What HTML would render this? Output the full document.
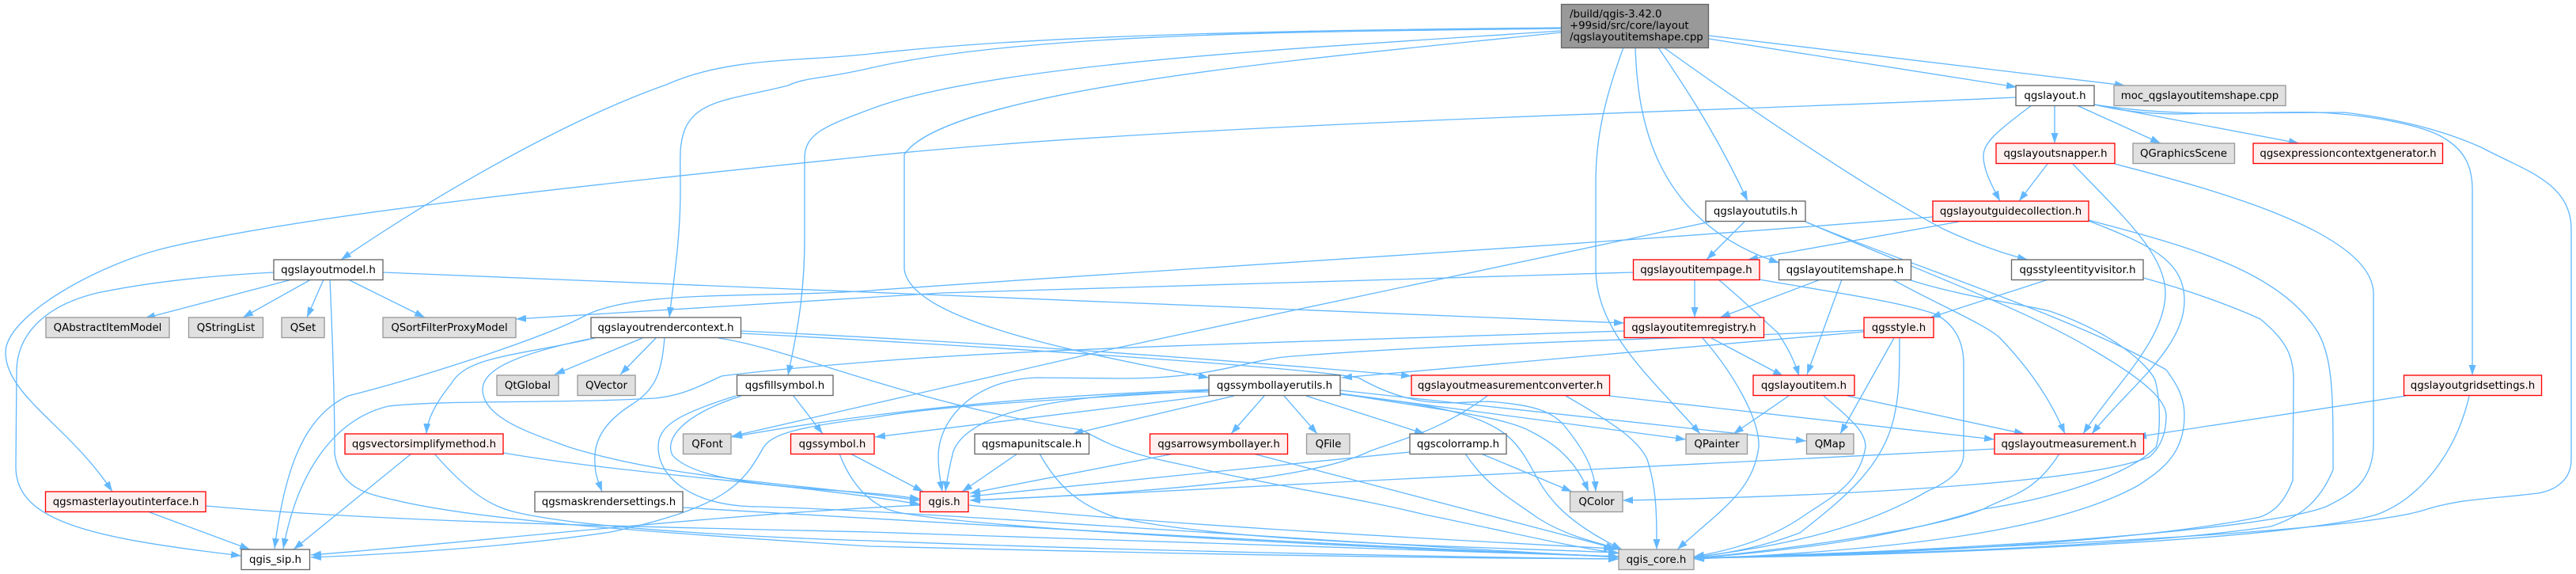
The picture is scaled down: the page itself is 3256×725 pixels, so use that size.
<!DOCTYPE html>
<html><head><meta charset="utf-8"><style>
html,body{margin:0;padding:0;background:#fff}
svg{display:block}
.e path{fill:none;stroke:#63b8ff;stroke-width:1.33;marker-end:url(#a)}
.n rect{stroke-width:1.33}
.w rect{fill:#fff;stroke:#666}
.r rect{fill:#fff0f0;stroke:#f00}
.g rect{fill:#e0e0e0;stroke:#999}
text{font-family:"DejaVu Sans",sans-serif;font-size:13.33px;fill:#000;text-anchor:middle}
</style></head><body>
<svg width="3256" height="725" viewBox="0 0 3256 725" xmlns="http://www.w3.org/2000/svg">
<defs><marker id="a" markerUnits="userSpaceOnUse" markerWidth="14" markerHeight="10" refX="13" refY="5" orient="auto"><polygon points="0,0.5 13,5 0,9.5" fill="#63b8ff"/></marker></defs>
<g class="e">
<!-- root -->
<path d="M1973,35C1680,38 1330,42 1100,68C1010,78 920,72 842,107C720,150 560,240 431,328"/>
<path d="M1973,36C1680,40 1300,40 1100,86C1040,100 1020,97 996,108C930,125 880,125 865,165C858,185 860,200 860,240C860,300 852,350 846,401"/>
<path d="M1973,39C1660,60 1250,80 1100,138C1040,160 1017,170 1017,200L1017,300C1017,380 1005,430 996,474"/>
<path d="M1973,41C1700,70 1200,110 1143,195L1143,340C1150,400 1330,440 1528,477"/>
<path d="M2052,60C2030,120 2017,170 2017,230L2017,340C2017,420 2090,480 2149,548"/>
<path d="M2067,60C2070,150 2090,280 2249,332"/>
<path d="M2096,60C2130,110 2170,170 2209,254"/>
<path d="M2103,60C2200,130 2370,245 2458,290C2490,305 2530,320 2563,328"/>
<path d="M2160,49L2549,110"/>
<path d="M2160,45L2686,108"/>
<!-- layoutmodel -->
<path d="M369,353L183,402"/>
<path d="M393,353L307,401"/>
<path d="M409,353L388,401"/>
<path d="M440,353L537,401"/>
<path d="M417,353C420,420 423,500 423,573C430,620 470,625 505,633C600,655 780,670 1100,690C1500,700 1800,705 2046,706"/>
<path d="M346,344C250,349 180,358 123,370C60,385 21,420 21,470L20,590C20,660 120,680 305,702"/>
<path d="M484,344L2053,408"/>
<!-- qgslayout -->
<path d="M2548,123C2200,140 1500,155 1100,197C800,228 400,268 210,313C120,335 7,400 7,445C7,500 90,540 142,621"/>
<path d="M2597,133L2597,181"/>
<path d="M2568,133C2525,165 2507,180 2507,197C2507,215 2518,235 2528,254"/>
<path d="M2625,133L2731,181"/>
<path d="M2647,132L2906,181"/>
<path d="M2647,132C2760,150 2860,140 2928,142C3000,145 3068,160 3090,175C3115,190 3125,210 3125,240L3125,474"/>
<path d="M2647,132C2700,145 2750,145 2787,143L2963,142C3030,150 3090,165 3138,187C3190,215 3250,230 3250,290L3250,580C3250,610 3225,620 3208,623C3150,630 3110,630 3068,643C2990,670 2600,690 2141,705"/>
<!-- snapper -->
<path d="M2588,207L2552,254"/>
<path d="M2620,207C2680,270 2737,320 2737,370C2737,430 2670,490 2633,548"/>
<path d="M2673,207C2780,235 2998,290 3000,370L3000,560C3000,610 2970,625 2940,640C2860,670 2500,695 2141,705"/>
<!-- guide -->
<path d="M2476,280L2209,328"/>
<path d="M2443,274C2000,310 1400,345 1100,367C960,377 800,365 737,400C680,430 520,480 440,500C385,525 360,590 347,693"/>
<path d="M2640,279C2720,310 2761,330 2761,380C2761,440 2690,490 2644,548"/>
<path d="M2640,278C2760,310 2880,340 2930,420C2949,455 2949,500 2949,593C2930,640 2900,655 2870,665C2700,690 2400,700 2141,705"/>
<!-- utils -->
<path d="M2205,280L2157,328"/>
<path d="M2162,280L1409,440L925,551"/>
<path d="M2282,280C2420,340 2560,390 2647,443C2710,480 2738,505 2738,525C2738,555 2725,570 2717,577C2650,605 2400,625 2051,632"/>
<path d="M2282,280C2400,330 2620,400 2738,467C2755,490 2761,505 2761,525C2761,575 2730,595 2703,613C2600,670 2400,695 2141,706"/>
<!-- itempage -->
<path d="M2064,344L1191,370L652,403"/>
<path d="M2142,353L2142,401"/>
<path d="M2172,353C2210,385 2235,410 2247,420C2260,440 2268,455 2274,475"/>
<path d="M2224,353C2290,365 2400,380 2447,397C2470,410 2482,430 2482,460L2482,573C2482,595 2460,610 2437,620C2350,670 2250,690 2141,704"/>
<!-- shape -->
<path d="M2301,353L2174,401"/>
<path d="M2328,353L2284,473"/>
<path d="M2392,353C2450,385 2510,410 2528,427C2560,460 2590,500 2610,548"/>
<path d="M2412,353C2480,375 2560,385 2591,393C2670,420 2715,460 2724,480C2732,510 2730,550 2725,565C2680,610 2560,635 2507,643C2390,680 2270,695 2141,705"/>
<!-- style visitor -->
<path d="M2589,353L2440,401"/>
<path d="M2709,351C2780,370 2840,395 2857,403C2890,430 2899,450 2899,480L2898,607C2885,640 2870,648 2857,653C2700,685 2400,700 2141,705"/>
<!-- registry -->
<path d="M2163,427L2254,475"/>
<path d="M2152,427C2190,470 2225,530 2223,565C2215,620 2180,640 2120,694"/>
<path d="M2053,418C1700,430 1300,440 1100,457C1000,465 950,470 912,475C880,490 860,500 828,503C700,510 560,505 491,513C420,530 375,600 358,693"/>
<!-- style -->
<path d="M2356,419L1696,477"/>
<path d="M2356,417C2150,428 1900,430 1633,450C1570,455 1540,478 1416,478L1310,477C1230,480 1186,530 1186,577C1186,590 1188,605 1191,621"/>
<path d="M2394,427L2326,548"/>
<path d="M2401,427C2401,480 2400,500 2394,527C2380,590 2330,630 2275,673C2230,690 2190,698 2141,704"/>
<!-- item -->
<path d="M2261,500L2191,548"/>
<path d="M2335,500L2559,548"/>
<path d="M2305,500C2340,530 2358,545 2358,565C2350,610 2320,625 2282,650C2240,680 2190,695 2141,703"/>
<!-- measurement -->
<path d="M2521,567C2200,585 1700,610 1226,632"/>
<path d="M2603,573C2570,625 2540,625 2507,643C2440,670 2250,695 2141,705"/>
<!-- grid -->
<path d="M3041,500L2700,552"/>
<path d="M3121,500C3105,570 3060,630 3004,650C2900,680 2500,700 2141,705"/>
<!-- render context -->
<path d="M936,418C1200,430 1500,450 1784,475"/>
<path d="M936,421C1300,440 1650,465 1717,477C1740,490 1770,503 1801,507C1840,512 1870,505 1892,508C1940,512 1960,520 1975,535C2000,565 2015,590 2017,621"/>
<path d="M908,427C1000,440 1150,510 1367,543C1385,552 1395,558 1408,563C1450,580 1490,585 1521,593C1620,615 1720,630 1801,650C1900,670 1980,690 2046,699"/>
<path d="M752,427C650,450 590,450 570,485C550,510 540,530 539,548"/>
<path d="M745,428C640,450 610,470 610,492C610,530 680,550 720,565C850,605 1000,610 1163,632"/>
<path d="M812,427L701,473"/>
<path d="M829,427L784,473"/>
<path d="M840,427C836,470 830,490 800,510C760,535 750,560 752,585C752,600 757,610 761,621"/>
<!-- vector simplify -->
<path d="M520,573L371,694"/>
<path d="M636,572C800,600 1000,610 1163,637"/>
<path d="M549,573C590,620 620,640 652,647C750,670 1000,680 1100,683C1400,695 1800,703 2046,706"/>
<!-- master -->
<path d="M189,647L316,694"/>
<path d="M260,639C500,660 800,665 1100,672C1500,685 1800,695 2046,703"/>
<!-- mask -->
<path d="M863,641C1100,655 1700,690 2046,703"/>
<!-- fillsymbol -->
<path d="M1003,500L1040,548"/>
<path d="M937,500C860,525 840,555 850,575C880,610 1000,615 1100,623C1130,625 1145,628 1163,630"/>
<path d="M930,500C850,525 832,540 832,565C832,600 870,640 960,640C1150,645 1600,680 2046,704"/>
<!-- qgssymbol -->
<path d="M1075,573L1167,621"/>
<path d="M1061,573C1075,610 1100,640 1135,647C1250,670 1800,695 2046,703"/>
<!-- symbollayerutils -->
<path d="M1528,492C1300,500 1100,520 925,552"/>
<path d="M1528,493C1350,505 1200,510 1100,528C1000,540 975,550 965,565C940,610 920,640 772,672C650,690 500,700 393,704"/>
<path d="M1528,500L1106,552"/>
<path d="M1528,495C1420,495 1230,505 1205,570C1200,590 1197,605 1195,621"/>
<path d="M1560,500L1356,548"/>
<path d="M1598,500L1556,548"/>
<path d="M1623,500L1665,548"/>
<path d="M1651,500L1801,548"/>
<path d="M1694,497L2131,555"/>
<path d="M1694,493L2283,557"/>
<path d="M1694,497C1800,515 1900,525 1935,545C1975,565 1995,590 2008,621"/>
<path d="M1694,498C1800,510 1880,520 1915,560C1950,600 1940,640 2050,694"/>
<!-- map unit -->
<path d="M1286,573L1216,621"/>
<path d="M1314,573C1340,620 1370,640 1409,653C1550,685 1850,690 2046,698"/>
<!-- arrow -->
<path d="M1484,573L1226,623"/>
<path d="M1584,573L2043,693"/>
<!-- color ramp -->
<path d="M1782,571L1226,627"/>
<path d="M1872,573L1987,621"/>
<path d="M1852,573C1880,615 1910,630 1942,653C1975,675 2015,685 2050,694"/>
<!-- converter -->
<path d="M1880,500C1820,545 1770,555 1731,570C1650,610 1400,625 1226,632"/>
<path d="M1979,500C2040,535 2070,555 2082,580C2095,620 2094,660 2094,694"/>
<path d="M2034,500L2521,555"/>
<!-- qgis.h -->
<path d="M1163,638C900,650 600,685 393,701"/>
<path d="M1224,638C1500,665 1800,680 2040,693"/>
</g>
<g class="n">
<rect x="1973.5" y="5.5" width="186" height="55" fill="#999" stroke="#666" stroke-width="1.33"/>
<text x="1984" y="22" style="text-anchor:start">/build/qgis-3.42.0</text>
<text x="1984" y="36.5" style="text-anchor:start">+99sid/src/core/layout</text>
<text x="1984" y="51" style="text-anchor:start">/qgslayoutitemshape.cpp</text>

<g class="w"><rect x="2548" y="108" width="99" height="25.5"/><text x="2597.5" y="125">qgslayout.h</text></g>
<g class="g"><rect x="2672" y="108" width="217" height="25.5"/><text x="2780.5" y="125">moc_qgslayoutitemshape.cpp</text></g>
<g class="r"><rect x="2523" y="181" width="150" height="25.5"/><text x="2598" y="198">qgslayoutsnapper.h</text></g>
<g class="g"><rect x="2696" y="181" width="128.5" height="25.5"/><text x="2760" y="198">QGraphicsScene</text></g>
<g class="r"><rect x="2848" y="181" width="239.5" height="25.5"/><text x="2968" y="198">qgsexpressioncontextgenerator.h</text></g>
<g class="w"><rect x="2156" y="254" width="126" height="25.5"/><text x="2219" y="271">qgslayoututils.h</text></g>
<g class="r"><rect x="2443" y="254" width="197" height="25.5"/><text x="2541.5" y="271">qgslayoutguidecollection.h</text></g>
<g class="w"><rect x="346" y="328" width="138" height="25.5"/><text x="415" y="345">qgslayoutmodel.h</text></g>
<g class="r"><rect x="2064.5" y="328" width="159.5" height="25.5"/><text x="2144" y="345">qgslayoutitempage.h</text></g>
<g class="w"><rect x="2248.5" y="328" width="167" height="25.5"/><text x="2332" y="345">qgslayoutitemshape.h</text></g>
<g class="w"><rect x="2542.5" y="328" width="166.5" height="25.5"/><text x="2626" y="345">qgsstyleentityvisitor.h</text></g>
<g class="g"><rect x="58" y="401" width="156" height="25.5"/><text x="136" y="418">QAbstractItemModel</text></g>
<g class="g"><rect x="238.5" y="401" width="94" height="25.5"/><text x="285.5" y="418">QStringList</text></g>
<g class="g"><rect x="356" y="401" width="54" height="25.5"/><text x="383" y="418">QSet</text></g>
<g class="g"><rect x="484" y="401" width="168" height="25.5"/><text x="568" y="418">QSortFilterProxyModel</text></g>
<g class="w"><rect x="747" y="401" width="189.5" height="25.5"/><text x="841.5" y="418">qgslayoutrendercontext.h</text></g>
<g class="r"><rect x="2053" y="401" width="176.5" height="25.5"/><text x="2141" y="418">qgslayoutitemregistry.h</text></g>
<g class="r"><rect x="2356" y="401" width="88" height="25.5"/><text x="2400" y="418">qgsstyle.h</text></g>
<g class="g"><rect x="628" y="474" width="78" height="25.5"/><text x="667" y="491">QtGlobal</text></g>
<g class="g"><rect x="730" y="474" width="73" height="25.5"/><text x="766.5" y="491">QVector</text></g>
<g class="w"><rect x="931.5" y="474" width="121.5" height="25.5"/><text x="992" y="491">qgsfillsymbol.h</text></g>
<g class="w"><rect x="1528" y="474" width="166" height="25.5"/><text x="1611" y="491">qgssymbollayerutils.h</text></g>
<g class="r"><rect x="1784" y="474" width="250.5" height="25.5"/><text x="1909" y="491">qgslayoutmeasurementconverter.h</text></g>
<g class="r"><rect x="2216" y="474" width="128" height="25.5"/><text x="2280" y="491">qgslayoutitem.h</text></g>
<g class="r"><rect x="3038.5" y="474" width="174" height="25.5"/><text x="3125.5" y="491">qgslayoutgridsettings.h</text></g>
<g class="r"><rect x="436" y="548" width="200" height="25.5"/><text x="536" y="565">qgsvectorsimplifymethod.h</text></g>
<g class="g"><rect x="863.5" y="548" width="60.5" height="25.5"/><text x="894" y="565">QFont</text></g>
<g class="r"><rect x="999.5" y="548" width="105.5" height="25.5"/><text x="1052" y="565">qgssymbol.h</text></g>
<g class="w"><rect x="1232" y="548" width="144.5" height="25.5"/><text x="1304" y="565">qgsmapunitscale.h</text></g>
<g class="r"><rect x="1453.5" y="548" width="174" height="25.5"/><text x="1540.5" y="565">qgsarrowsymbollayer.h</text></g>
<g class="g"><rect x="1651.5" y="548" width="54.5" height="25.5"/><text x="1679" y="565">QFile</text></g>
<g class="w"><rect x="1782" y="548" width="122" height="25.5"/><text x="1843" y="565">qgscolorramp.h</text></g>
<g class="g"><rect x="2131" y="548" width="77.5" height="25.5"/><text x="2170" y="565">QPainter</text></g>
<g class="g"><rect x="2283.5" y="548" width="59.5" height="25.5"/><text x="2313" y="565">QMap</text></g>
<g class="r"><rect x="2521" y="548" width="188.5" height="25.5"/><text x="2615" y="565">qgslayoutmeasurement.h</text></g>
<g class="r"><rect x="57.5" y="621" width="202.5" height="25.5"/><text x="159" y="638">qgsmasterlayoutinterface.h</text></g>
<g class="w"><rect x="676" y="621" width="187" height="25.5"/><text x="769.5" y="638">qgsmaskrendersettings.h</text></g>
<g class="r"><rect x="1163" y="621" width="61" height="25.5"/><text x="1193.5" y="638">qgis.h</text></g>
<g class="g"><rect x="1984.5" y="621" width="66.5" height="25.5"/><text x="2018" y="638">QColor</text></g>
<g class="w"><rect x="305" y="694" width="86.5" height="25.5"/><text x="348" y="711">qgis_sip.h</text></g>
<g class="g"><rect x="2046" y="694" width="95" height="25.5"/><text x="2093.5" y="711">qgis_core.h</text></g>
</g>
</svg>
</body></html>
